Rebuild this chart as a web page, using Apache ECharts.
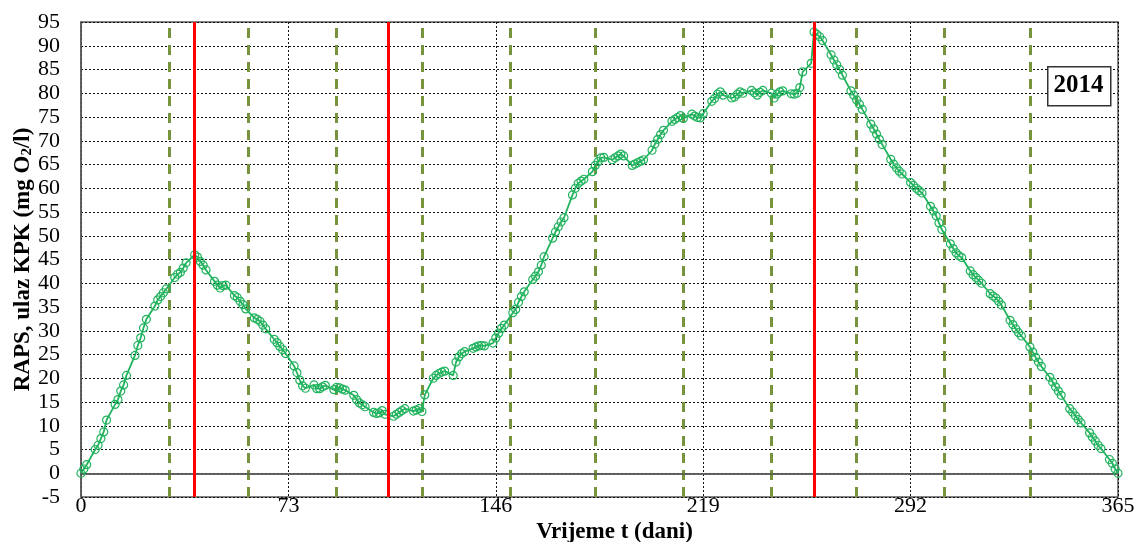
<!DOCTYPE html>
<html>
<head>
<meta charset="utf-8">
<script src="https://cdn.jsdelivr.net/npm/echarts@6/dist/echarts.min.js"></script>
<style>
html,body{margin:0;padding:0;background:#fff;}
#chart{width:1141px;height:542px;}
</style>
</head>
<body>
<div id="chart"></div>
<script>
// ---- data ----
const xTicks = [0, 73, 146, 219, 292, 365];
const yTicks = [-5, 0, 5, 10, 15, 20, 25, 30, 35, 40, 45, 50, 55, 60, 65, 70, 75, 80, 85, 90, 95];
const monthBounds = [31, 59, 90, 120, 151, 181, 212, 243, 273, 304, 334];
const eventDays = [40, 108, 258];
const yearLabel = '2014';

const days = [
  0,1,2,5,6, 7,8,9,12,13, 14,15,16,19,20, 21,22,23,26,27,
  28,29,30,33,34, 35,36,37,40,41, 42,43,44,47,48, 49,50,51,54,55,
  56,57,58,61,62, 63,64,65,68,69, 70,71,72,75,76, 77,78,79,82,83,
  84,85,86,89,90, 91,92,93,96,97, 98,99,100,103,104, 105,106,107,110,111,
  112,113,114,117,118, 119,120,121,124,125, 126,127,128,131,132, 133,134,135,138,139,
  140,141,142,145,146, 147,148,149,152,153, 154,155,156,159,160, 161,162,163,166,167,
  168,169,170,173,174, 175,176,177,180,181, 182,183,184,187,188, 189,190,191,194,195,
  196,197,198,201,202, 203,204,205,208,209, 210,211,212,215,216, 217,218,219,222,223,
  224,225,226,229,230, 231,232,233,236,237, 238,239,240,243,244, 245,246,247,250,251,
  252,253,254,257,258, 259,260,261,264,265, 266,267,268,271,272, 273,274,275,278,279,
  280,281,282,285,286, 287,288,289,292,293, 294,295,296,299,300, 301,302,303,306,307,
  308,309,310,313,314, 315,316,317,320,321, 322,323,324,327,328, 329,330,331,334,335,
  336,337,338,341,342, 343,344,345,348,349, 350,351,352,355,356, 357,358,359,362,363,
  364,365
];
const raps = [
  0,0.9,1.8,5.0,5.9, 7.3,8.7,11.2,14.5,15.5, 17.3,18.6,20.6,24.8,26.9, 28.5,30.6,32.4,35.2,36.5,
  37.2,38.0,38.8,41.2,41.9, 42.3,43.2,44.3,46.0,45.5, 44.6,43.8,42.8,40.4,39.6, 39.0,39.5,39.6,37.4,37.0,
  36.2,35.5,34.6,32.7,32.4, 32.0,31.2,30.4,28.2,27.5, 26.7,26.0,25.2,22.6,21.2, 19.6,18.4,17.9,18.6,17.8,
  17.8,18.2,18.5,17.6,18.1, 18.0,17.7,17.5,16.4,15.5, 14.8,14.4,14.0,12.8,12.6, 12.7,13.2,12.4,12.0,12.4,
  12.8,13.2,13.6,13.1,13.3, 13.6,13.0,16.5,20.0,20.6, 21.0,21.3,21.5,20.6,23.4, 24.5,25.2,25.6,26.3,26.6,
  26.8,26.9,26.8,27.4,28.5, 29.5,30.5,31.2,33.8,34.5, 36.0,37.2,38.2,40.8,41.5, 42.4,43.8,45.6,49.5,50.8,
  51.9,52.9,53.8,58.6,60.0, 61.0,61.5,61.9,63.5,64.8, 65.6,66.4,66.5,66.0,66.4, 66.8,67.2,66.8,64.8,65.1,
  65.4,65.7,66.0,68.0,69.3, 70.3,71.3,72.2,74.1,74.5, 74.9,75.3,74.7,75.6,75.2, 74.9,74.8,75.7,78.3,78.9,
  79.8,80.3,79.6,79.0,79.2, 79.8,80.3,80.0,80.6,80.1, 79.6,80.2,80.6,80.0,79.0, 79.8,80.3,80.5,79.9,79.8,
  80.0,81.2,84.5,86.3,92.9, 92.4,91.9,91.1,88.1,87.0, 86.0,85.0,83.8,80.5,79.6, 78.6,77.7,76.6,73.5,72.5,
  71.4,70.3,69.2,66.1,65.1, 64.3,63.6,63.0,61.2,60.6, 60.0,59.5,59.0,56.2,55.2, 54.2,52.7,51.3,48.3,47.3,
  46.4,45.8,45.4,42.6,41.8, 41.2,40.6,40.0,37.8,37.3, 36.9,36.2,35.4,32.2,31.3, 30.4,29.6,28.9,26.6,25.5,
  24.4,23.4,22.5,20.2,19.2, 18.2,17.3,16.4,13.6,12.9, 12.1,11.3,10.6,8.5,7.6, 6.8,5.9,5.2,2.9,2.1,
  0.9,0
];

// ---- chart ----
const chart = echarts.init(document.getElementById('chart'), null, {renderer: 'canvas'});
const serif = '"Liberation Serif", "Times New Roman", serif';
const green = '#22b35e';

const option = {
  animation: false,
  backgroundColor: '#fff',
  grid: {
    left: 81, right: 23, top: 22, bottom: 45,
    containLabel: false, outerBoundsMode: 'none',
    show: true, borderColor: '#595959', borderWidth: 1.5, backgroundColor: 'transparent'
  },
  xAxis: {
    type: 'value',
    min: xTicks[0], max: xTicks[xTicks.length - 1], interval: xTicks[1] - xTicks[0],
    name: 'Vrijeme t (dani)',
    nameLocation: 'middle',
    nameGap: 24,
    nameMoveOverlap: false,
    nameTextStyle: {fontFamily: serif, fontWeight: 'bold', fontSize: 23, color: '#000', padding: [0, 0, 0, 30]},
    axisLine: {show: true, lineStyle: {color: '#595959', width: 1.5}},
    axisTick: {show: false},
    axisLabel: {
      fontFamily: serif, fontSize: 22, color: '#000', margin: -2,
      formatter: v => (xTicks.indexOf(v) >= 0 ? String(v) : '')
    },
    splitLine: {show: true, lineStyle: {color: '#111', type: [2, 2], width: 1}}
  },
  yAxis: {
    type: 'value',
    min: yTicks[0], max: yTicks[yTicks.length - 1], interval: yTicks[1] - yTicks[0],
    name: '{a|RAPS, ulaz KPK (mg O}{s|2}{a|/l)}',
    nameLocation: 'middle',
    nameGap: 46,
    nameMoveOverlap: false,
    nameRotate: 90,
    nameTextStyle: {
      rich: {
        a: {fontFamily: serif, fontWeight: 'bold', fontSize: 23, color: '#000', lineHeight: 27, verticalAlign: 'bottom'},
        s: {fontFamily: serif, fontWeight: 'bold', fontSize: 15, color: '#000', lineHeight: 16, verticalAlign: 'bottom'}
      }
    },
    axisLine: {show: true, lineStyle: {color: '#595959', width: 1.5}},
    axisTick: {show: false},
    axisLabel: {fontFamily: serif, fontSize: 22, color: '#000', margin: 21},
    splitLine: {show: true, lineStyle: {color: '#111', type: [2, 2], width: 1}}
  },
  series: [
    {
      type: 'line',
      data: [],
      z: 1,
      silent: true,
      markLine: {
        silent: true, symbol: ['none', 'none'], label: {show: false}, z: 1,
        lineStyle: {color: '#77933c', type: [10, 7], width: 3},
        data: monthBounds.map(d => ({xAxis: d}))
      }
    },
    {
      type: 'line',
      data: [],
      z: 1,
      silent: true,
      markLine: {
        silent: true, symbol: ['none', 'none'], label: {show: false}, z: 1,
        lineStyle: {color: '#595959', type: 'solid', width: 1.5},
        data: [{yAxis: 0}]
      }
    },
    {
      type: 'line',
      name: 'RAPS',
      data: days.map((d, i) => [d, raps[i]]),
      z: 3,
      symbol: 'circle',
      symbolSize: 8,
      showSymbol: true,
      lineStyle: {color: green, width: 1.8},
      itemStyle: {color: 'rgba(255,255,255,0)', borderColor: green, borderWidth: 1.2}
    },
    {
      type: 'line',
      data: [],
      z: 5,
      silent: true,
      markLine: {
        silent: true, symbol: ['none', 'none'], label: {show: false}, z: 6,
        lineStyle: {color: '#ff0000', type: 'solid', width: 3},
        data: eventDays.map(d => ({xAxis: d}))
      }
    }
  ],
  graphic: [
    {type: 'rect', left: 1047, top: 66, z: 100, zlevel: 0,
     shape: {x: 0, y: 0, width: 63, height: 39},
     style: {fill: '#ffffff', stroke: '#333', lineWidth: 1.5}},
    {type: 'text', x: 1078.5, y: 86, z: 101, zlevel: 0,
     style: {text: yearLabel, font: 'bold 25px ' + serif, fill: '#000', align: 'center', verticalAlign: 'middle'}}
  ]
};
chart.setOption(option);
</script>
</body>
</html>
